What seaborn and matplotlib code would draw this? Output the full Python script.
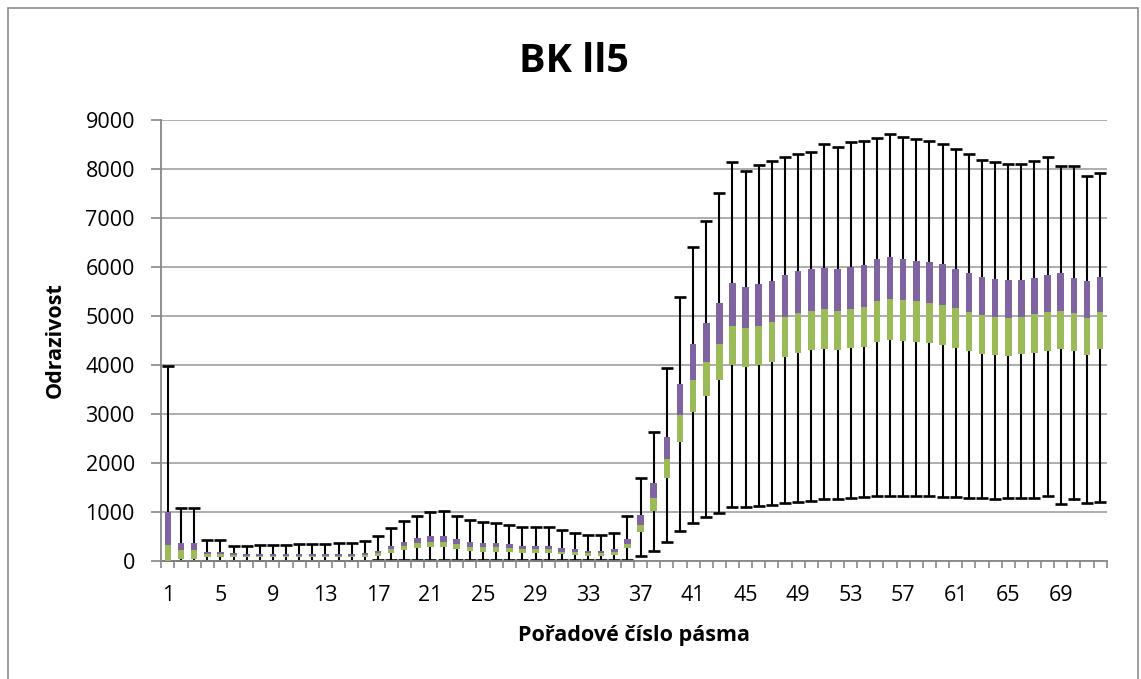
import numpy as np
import pandas as pd
import matplotlib
matplotlib.use("Agg")
import matplotlib.pyplot as plt
from matplotlib.patches import Rectangle
import seaborn as sns

# Band numbers 1..72 and the five-number summary of reflectance per band
bands = list(range(1, 73))

band_min = [0, 10, 10, 10, 10, 10, 10, 10, 10, 10, 10, 10, 10, 10, 10, 10,
            30, 30, 30, 30, 30, 30, 30, 30, 30, 30, 30, 30, 30, 30, 30, 30,
            30, 30, 30, 30, 102, 204, 381, 612, 769, 891, 986, 1095, 1109, 1122,
            1143, 1177, 1211, 1224, 1272, 1258, 1293, 1313, 1320, 1333, 1320, 1320,
            1320, 1313, 1299, 1285, 1279, 1272, 1279, 1285, 1292, 1320, 1163, 1265,
            1177, 1197]

band_q1 = [0, 40, 40, 88, 88, 88, 80, 80, 80, 80, 80, 80, 80, 80, 80, 80,
           102, 170, 224, 258, 293, 293, 245, 211, 190, 190, 177, 156, 156, 156,
           136, 122, 109, 109, 122, 258, 585, 1020, 1687, 2435, 3034, 3374, 3694,
           4000, 3952, 4000, 4068, 4170, 4252, 4313, 4333, 4313, 4354, 4374, 4476,
           4510, 4497, 4469, 4442, 4401, 4340, 4292, 4224, 4204, 4190, 4224, 4252,
           4292, 4333, 4292, 4204, 4327]

band_median = [327, 224, 224, 143, 143, 122, 110, 112, 112, 110, 112, 112, 112,
               112, 112, 115, 156, 238, 313, 360, 394, 394, 347, 293, 279, 279,
               258, 238, 238, 238, 190, 190, 156, 156, 190, 347, 735, 1293, 2075,
               2980, 3694, 4055, 4429, 4803, 4748, 4803, 4871, 4973, 5068, 5109,
               5136, 5102, 5136, 5177, 5299, 5340, 5327, 5299, 5265, 5224, 5156,
               5088, 5014, 4980, 4966, 4980, 5034, 5082, 5109, 5068, 4959, 5082]

band_q3 = [1000, 360, 360, 190, 190, 156, 140, 150, 150, 140, 150, 150, 150,
           150, 150, 160, 204, 306, 394, 462, 517, 517, 449, 394, 360, 360, 340,
           306, 306, 306, 258, 245, 211, 211, 245, 442, 939, 1585, 2537, 3612,
           4429, 4850, 5272, 5667, 5599, 5646, 5721, 5837, 5925, 5959, 5973, 5959,
           6007, 6041, 6157, 6198, 6157, 6129, 6109, 6061, 5966, 5884, 5803, 5755,
           5728, 5728, 5782, 5837, 5871, 5776, 5707, 5803]

band_max = [3970, 1075, 1075, 425, 425, 313, 299, 333, 333, 320, 347, 347, 347,
            367, 367, 415, 517, 667, 816, 925, 1007, 1014, 918, 837, 803, 769, 735,
            687, 694, 687, 633, 565, 531, 531, 565, 918, 1687, 2639, 3946, 5395,
            6415, 6939, 7503, 8136, 7959, 8075, 8163, 8252, 8306, 8354, 8503, 8442,
            8544, 8578, 8639, 8707, 8646, 8612, 8578, 8510, 8401, 8299, 8184, 8136,
            8102, 8102, 8170, 8238, 8068, 8068, 7857, 7912]

y_ticks = list(range(0, 9001, 1000))
x_label_step = 4

title_text = "BK ll5"
x_title = "Pořadové číslo pásma"
y_title = "Odrazivost"

GREEN = "#9BBB59"
PURPLE = "#8064A2"
GRID = "#A0A0A0"
AXIS = "#878787"

df = pd.DataFrame({
    "band": [str(b) for b in bands],
    "min": band_min, "q1": band_q1, "median": band_median,
    "q3": band_q3, "max": band_max,
})
df["lower"] = df["median"] - df["q1"]
df["upper"] = df["q3"] - df["median"]

sns.set_style("white")
plt.rcParams["font.family"] = ["Open Sans", "DejaVu Sans"]
plt.rcParams["text.color"] = "black"
plt.rcParams["axes.labelcolor"] = "black"
plt.rcParams["xtick.labelcolor"] = "black"
plt.rcParams["ytick.labelcolor"] = "black"

W, H = 1141, 679
fig = plt.figure(figsize=(W / 100, H / 100), dpi=100)
ax = fig.add_axes([161.3 / W, 1 - 561 / H, (1106.7 - 161.3) / W, (561 - 120) / H])

order = df["band"].tolist()
pos = np.arange(len(df))

# whiskers from minimum to maximum, drawn behind the boxes
ax.errorbar(pos, df["median"],
            yerr=[df["median"] - df["min"], df["max"] - df["median"]],
            fmt="none", ecolor="black", elinewidth=1.5, capsize=4.3,
            capthick=1.9, zorder=2)

# lower half of the box (Q1 to median) and upper half (median to Q3)
sns.barplot(data=df, x="band", y="lower", order=order, bottom=df["q1"].values,
            color=GREEN, saturation=1, width=0.5, errorbar=None, ax=ax,
            linewidth=0, zorder=3)
sns.barplot(data=df, x="band", y="upper", order=order, bottom=df["median"].values,
            color=PURPLE, saturation=1, width=0.5, errorbar=None, ax=ax,
            linewidth=0, zorder=3)

ax.set_ylim(0, 9000)
ax.set_xlim(-0.5, len(df) - 0.5)
ax.set_yticks(y_ticks)
ax.set_yticklabels([str(t) for t in y_ticks])
label_pos = pos[::x_label_step]
ax.set_xticks(label_pos)
ax.set_xticklabels([order[i] for i in label_pos])
ax.set_xticks(np.arange(-0.5, len(df), 1.0), minor=True)

ax.yaxis.grid(True, color=GRID, linewidth=1.2, zorder=0)
ax.xaxis.grid(False)
ax.set_axisbelow(True)

for side in ("top", "right"):
    ax.spines[side].set_visible(False)
for side in ("left", "bottom"):
    ax.spines[side].set_color(AXIS)
    ax.spines[side].set_linewidth(1.3)

ax.tick_params(axis="y", which="major", length=7, width=1.2, color=AXIS,
               labelsize=15.5, pad=12, left=True, labelcolor="black")
ax.tick_params(axis="x", which="major", length=0, labelsize=15.5, pad=17,
               bottom=True, labelcolor="black")
ax.tick_params(axis="x", which="minor", length=5, width=1.2, color=AXIS,
               bottom=True)

ax.set_xlabel(x_title, fontsize=15.5, fontweight="bold", labelpad=14,
              color="black")
ax.set_ylabel(y_title, fontsize=15.5, fontweight="bold", labelpad=14,
              color="black")

fig.text(574 / W, 1 - 71.5 / H, title_text, ha="center", va="baseline",
         fontsize=28.5, fontweight="bold", color="black")

# chart area border
fig.add_artist(Rectangle((7.5 / W, -0.05), (1138 - 7.5) / W, 1.05 - 7.5 / H,
                         transform=fig.transFigure, fill=False,
                         edgecolor="#8C8C8C", linewidth=1.2))

fig.savefig("out.png", dpi=100, facecolor="white")
